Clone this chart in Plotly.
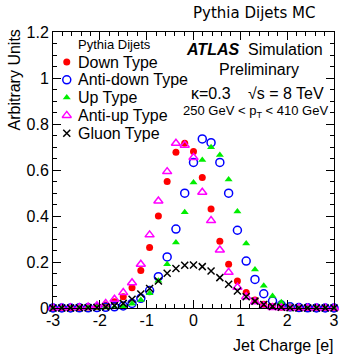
import plotly.graph_objects as go

# ---- data ----
jet_charge = [-3 + 0.1875 * i for i in range(33)]

down_type = [0, 0, 0.001, 0.002, 0.004, 0.006, 0.013, 0.027, 0.049, 0.088, 0.163,
             0.263, 0.40, 0.55, 0.677, 0.716, 0.68, 0.567, 0.43, 0.29, 0.19,
             0.117, 0.067, 0.035, 0.016, 0.006, 0.003, 0.001, 0, 0, 0, 0, 0]
anti_down_type = [0, 0, 0, 0.001, 0.001, 0.002, 0.003, 0.005, 0.009, 0.02, 0.042,
                  0.076, 0.136, 0.222, 0.343, 0.499, 0.633, 0.735, 0.719, 0.633, 0.499,
                  0.338, 0.204, 0.124, 0.062, 0.03, 0.013, 0.005, 0.002, 0.001, 0, 0, 0]
up_type = [0, 0, 0, 0, 0.001, 0.001, 0.002, 0.003, 0.008, 0.018, 0.035,
           0.064, 0.118, 0.19, 0.285, 0.416, 0.546, 0.643, 0.699, 0.665, 0.559,
           0.42, 0.28, 0.167, 0.097, 0.052, 0.025, 0.01, 0.004, 0.002, 0.001, 0, 0]
anti_up_type = [0, 0, 0.001, 0.002, 0.004, 0.01, 0.02, 0.038, 0.067, 0.11, 0.19,
                0.318, 0.465, 0.593, 0.716, 0.708, 0.654, 0.503, 0.38, 0.252, 0.155,
                0.09, 0.049, 0.027, 0.009, 0.002, 0.001, 0, 0, 0, 0, 0, 0]
gluon_type = [0, 0, 0, 0.001, 0.001, 0.002, 0.005, 0.01, 0.02, 0.038, 0.061,
              0.085, 0.117, 0.151, 0.172, 0.186, 0.187, 0.18, 0.161, 0.132, 0.103,
              0.074, 0.049, 0.03, 0.015, 0.007, 0.003, 0.001, 0, 0, 0, 0, 0]

series_names = ["Down Type", "Anti-down Type", "Up Type", "Anti-up Type", "Gluon Type"]
series_values = [down_type, anti_down_type, up_type, anti_up_type, gluon_type]

x_tick_vals = [-3, -2, -1, 0, 1, 2, 3]
x_tick_text = ["-3", "-2", "-1", "0", "1", "2", "3"]
y_tick_vals = [0, 0.2, 0.4, 0.6, 0.8, 1.0, 1.2]
y_tick_text = ["0", "0.2", "0.4", "0.6", "0.8", "1", "1.2"]

# ---- styles ----
styles = [
    dict(symbol="circle", size=7, color="#ff0000", line=dict(width=0)),
    dict(symbol="circle-open", size=8, color="#0000ff", line=dict(width=1.5, color="#0000ff")),
    dict(symbol="triangle-up", size=7, color="#00ee00", line=dict(width=0)),
    dict(symbol="triangle-up-open", size=8, color="#ff00ff", line=dict(width=1.5, color="#ff00ff")),
    dict(symbol="x-thin", size=7, color="black", line=dict(width=1.5, color="black")),
]

FONT = "Liberation Sans, Arial, Helvetica, sans-serif"

fig = go.Figure()
for name, vals, st in zip(series_names, series_values, styles):
    fig.add_trace(go.Scatter(x=jet_charge, y=vals, mode="markers", name=name,
                             marker=st, cliponaxis=False, showlegend=False))

# legend keys drawn on an auxiliary hidden axis (index-based)
idx = list(range(len(series_names)))
for i, st in zip(idx, styles):
    fig.add_trace(go.Scatter(x=[0], y=[i], mode="markers", marker=st,
                             xaxis="x2", yaxis="y2", showlegend=False,
                             hoverinfo="skip", cliponaxis=False))

annotations = []
for i, name in zip(idx, series_names):
    annotations.append(dict(x=0, y=i, xref="x2", yref="y2", text=name, showarrow=False,
                            xanchor="left", xshift=9, font=dict(family=FONT, size=16, color="black")))
annotations.append(dict(x=0, y=-1, xref="x2", yref="y2", text="Pythia Dijets", showarrow=False,
                        xanchor="left", xshift=9, font=dict(family=FONT, size=13, color="black")))

# text block
annotations += [
    dict(x=258, y=50, text="<b><i>ATLAS</i></b>  Simulation"),
    dict(x=263, y=69, text="Preliminary"),
    dict(x=214, y=93, text="κ=0.3"),
    dict(x=290, y=93, text="√s = 8 TeV"),
    dict(x=259, y=112, text="250 GeV &lt; p<sub>T</sub> &lt; 410 GeV", size=13),
]
# convert pixel-positioned text block to paper coords
L, R, T, B = 53, 339, 32, 308
conv = []
for a in annotations:
    if "xref" in a:
        conv.append(a)
        continue
    size = a.pop("size", 16)
    conv.append(dict(x=(a["x"] - L) / (R - L), y=(B - a["y"]) / (B - T), xref="paper", yref="paper",
                     text=a["text"], showarrow=False, xanchor="center", yanchor="middle",
                     font=dict(family=FONT, size=size, color="black")))
annotations = conv

annotations += [
    dict(x=1.0, y=1.0, xref="paper", yref="paper", text="Pythia Dijets MC", showarrow=False,
         xanchor="right", yanchor="bottom", xshift=-17, yshift=8,
         font=dict(family="DejaVu Sans", size=15, color="black")),
    dict(x=1.0, y=0, xref="paper", yref="paper", text="Jet Charge [e]", showarrow=False,
         xanchor="right", yanchor="top", yshift=-27, xshift=2,
         font=dict(family=FONT, size=16, color="black")),
    dict(x=0, y=1.0, xref="paper", yref="paper", text="Arbitrary Units", showarrow=False,
         textangle=-90, xanchor="center", yanchor="top", xshift=-39, yshift=4,
         font=dict(family=FONT, size=16, color="black")),
]

axis_common = dict(showline=True, linecolor="black", linewidth=1, mirror="allticks",
                   ticks="inside", ticklen=8, tickcolor="black", showgrid=False,
                   zeroline=False, tickfont=dict(family=FONT, size=16, color="black"))

fig.update_layout(
    width=344, height=355,
    margin=dict(l=L, r=344 - R, t=T, b=355 - B),
    paper_bgcolor="white", plot_bgcolor="white",
    showlegend=False,
    xaxis=dict(range=[-3, 3], tickmode="array", tickvals=x_tick_vals, ticktext=x_tick_text,
               ticklabelstandoff=-2,
               minor=dict(tickmode="linear", tick0=0, dtick=0.2, ticks="inside", ticklen=4,
                          tickcolor="black"), **axis_common),
    yaxis=dict(range=[0, 1.2], tickmode="array", tickvals=y_tick_vals, ticktext=y_tick_text,
               minor=dict(tickmode="linear", tick0=0, dtick=0.05, ticks="inside", ticklen=4,
                          tickcolor="black"), **axis_common),
    xaxis2=dict(domain=[0, 1], anchor="y2", overlaying="x", range=[-14 / (R - L), 1 - 14 / (R - L)],
                visible=False, fixedrange=True),
    yaxis2=dict(domain=[0, 1], anchor="x2", overlaying="y",
                range=[4 + (B - (62 + 4 * 17.8)) / 17.8, -(62 - T) / 17.8],
                visible=False, fixedrange=True),
    annotations=annotations,
)

fig.write_html("out.html")
